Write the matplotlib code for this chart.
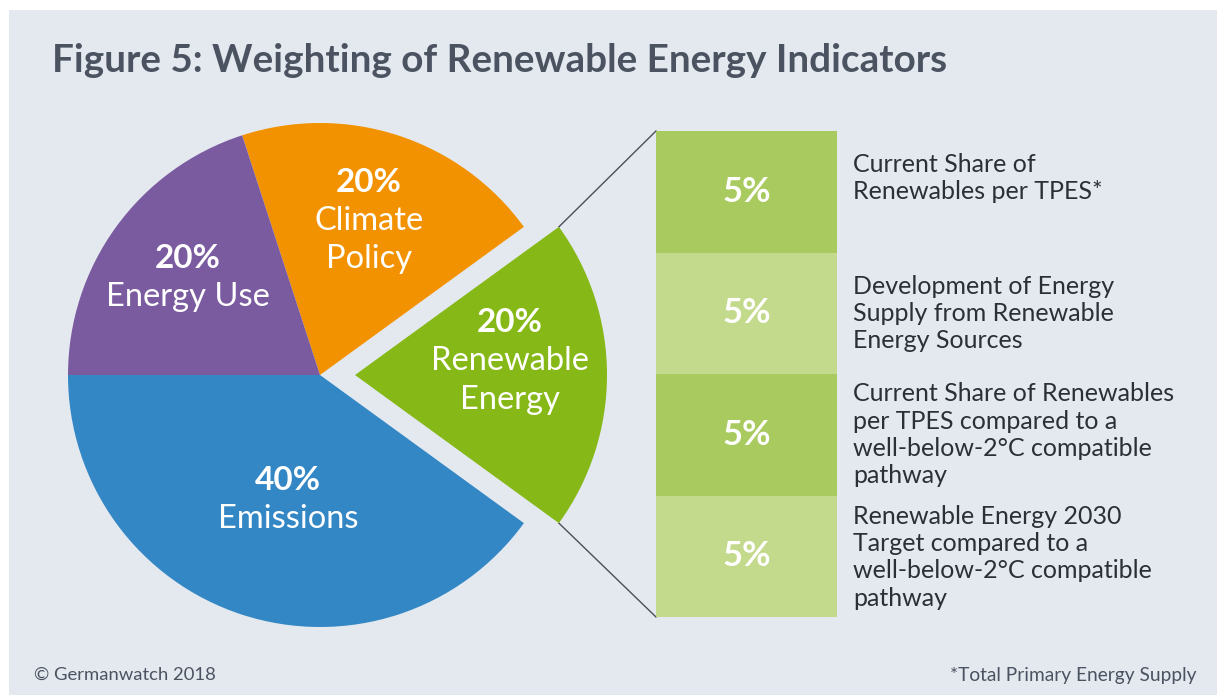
import matplotlib.pyplot as plt
import numpy as np

# pie data
pie_labels = ["Emissions", "Renewable\nEnergy", "Climate\nPolicy", "Energy Use"]
pie_values = [40, 20, 20, 20]
pie_colors = ["#3487c5", "#86b817", "#f39200", "#7b5ba0"]

# breakdown of the renewable slice
sub_values = [5, 5, 5, 5]
sub_labels = [
    "Current Share of\nRenewables per TPES*",
    "Development of Energy\nSupply from Renewable\nEnergy Sources",
    "Current Share of Renewables\nper TPES compared to a\nwell-below-2°C compatible\npathway",
    "Renewable Energy 2030\nTarget compared to a\nwell-below-2°C compatible\npathway",
]
sub_colors = ["#a8ca5e", "#c3d98b", "#a8ca5e", "#c3d98b"]

plt.rcParams['font.family'] = ["Lato", "DejaVu Sans"]

W, H = 1217, 695
fig = plt.figure(figsize=(W / 100, H / 100), dpi=100)
fig.patch.set_facecolor("white")
ax = fig.add_axes([0, 0, 1, 1])

# light panel behind everything
ax.add_patch(plt.Rectangle((9, 10), W - 9, H - 10, facecolor="#e4e9f0",
                           edgecolor="none", zorder=0))

cx, cy, R = 320, 375, 252
shift = 35
wedges, _ = ax.pie(pie_values, colors=pie_colors, startangle=180, counterclock=False,
                   center=(cx, cy), radius=R, explode=[0, shift, 0, 0],
                   wedgeprops=dict(linewidth=0))
for w in wedges:
    w.set_zorder(2)

# slice labels
label_pos = [(288, 481), (510, 323), (369, 182), (188, 258)]
for (x, y), v, name in zip(label_pos, pie_values, pie_labels):
    ax.text(x, y, f"{v}%", ha="center", va="center", color="white",
            fontsize=24, fontweight="bold", zorder=3)
    for i, line in enumerate(name.split("\n")):
        ax.text(x, y + 38.5 * (i + 1), line, ha="center", va="center",
                color="white", fontsize=23.5, zorder=3)

# stacked boxes for the renewable breakdown
bx0, bx1, by0, by1 = 656, 837, 131, 617
scale = (by1 - by0) / sum(sub_values)
text_offset = [-14, 0, 0, 1]
bottom = by0
for v, lab, col, off in zip(sub_values, sub_labels, sub_colors, text_offset):
    h = v * scale
    ax.bar((bx0 + bx1) / 2, h, bottom=bottom, width=bx1 - bx0, color=col,
           linewidth=0, zorder=2)
    ax.text((bx0 + bx1) / 2, bottom + h / 2, f"{v}%", ha="center", va="center",
            color="white", fontsize=25, fontweight="bold", zorder=3)
    ax.text(853, bottom + h / 2 + off, lab, ha="left", va="center", color="#2b2f36",
            fontsize=18, linespacing=1.22, zorder=3)
    bottom += h

# connector lines from the exploded slice to the boxes
ex = cx + shift
for ang, (px, py) in zip([36, -36], [(bx0, by0), (bx0, by1)]):
    sx = ex + R * np.cos(np.radians(ang))
    sy = cy - R * np.sin(np.radians(ang))
    ax.plot([sx, px], [sy, py], color="#4a4f57", linewidth=1, zorder=1)

ax.text(52, 60, "Figure 5: Weighting of Renewable Energy Indicators", ha="left",
        va="center", fontsize=27.8, fontweight="bold", color="#4b5361")
ax.text(34, 675, "© Germanwatch 2018", ha="left", va="center", fontsize=13.3,
        color="#4b5361")
ax.text(1196, 675, "*Total Primary Energy Supply", ha="right", va="center",
        fontsize=13.8, color="#4b5361")

ax.set_xlim(0, W)
ax.set_ylim(H, 0)
ax.set_aspect("equal")
ax.axis("off")

fig.savefig("out.png", dpi=100, facecolor=fig.get_facecolor())
